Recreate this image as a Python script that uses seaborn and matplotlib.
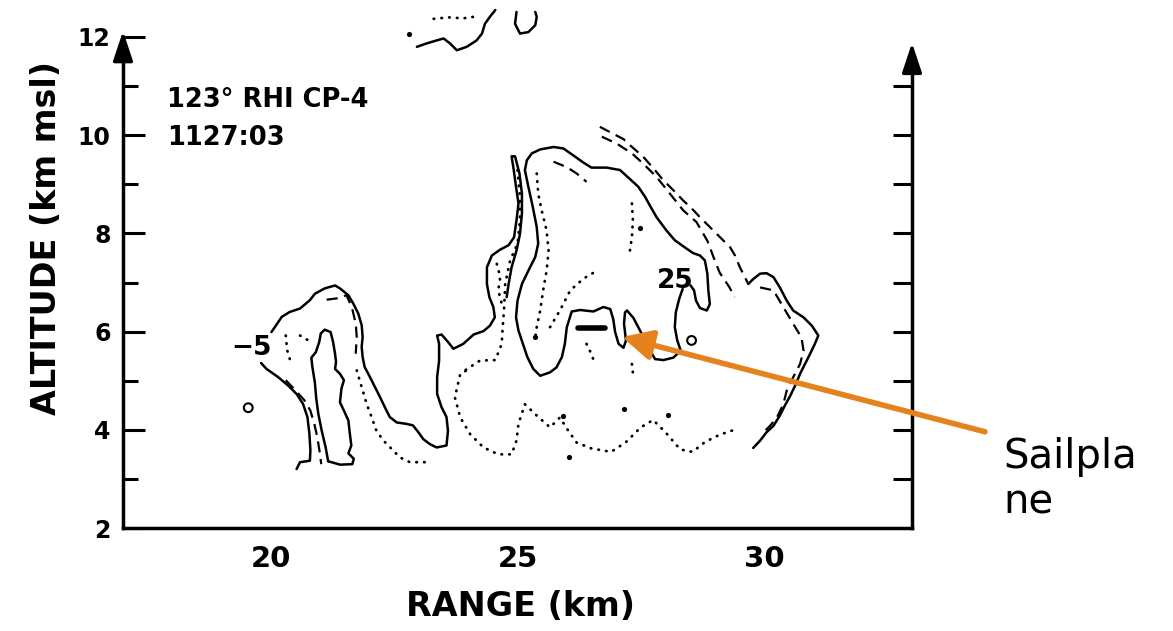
import matplotlib
matplotlib.use("Agg")
import matplotlib.pyplot as plt
import matplotlib.patheffects as pe
import seaborn as sns

# ---------------- data (range km, altitude km) ----------------
x_major = [20, 25, 30]
x_minor = [18, 19, 21, 22, 23, 24, 26, 27, 28, 29, 31, 32]
y_major = [2, 4, 6, 8, 10, 12]
y_minor = [3, 5, 7, 9, 11]
y_right = [3, 4, 5, 6, 7, 8, 9, 10, 11]

# -5 contour, left cell, left flank (ends at the "-5" label)
neg5_left_x = [20.52, 20.59, 20.79, 20.80, 20.78, 20.74, 20.65, 20.52, 20.35, 20.15, 19.91, 19.80]
neg5_left_y = [3.20, 3.34, 3.37, 3.58, 3.92, 4.26, 4.53, 4.73, 4.90, 5.07, 5.24, 5.36]

# -5 contour, from label over left cell, into centre cell and up the spike
neg5_main_x = [20.01, 20.22, 20.38, 20.59, 20.79, 20.89, 21.09, 21.30, 21.40, 21.57, 21.67, 21.77,
               21.84, 21.86, 21.84, 21.86, 21.90, 22.01, 22.11, 22.21, 22.31, 22.41, 22.55, 22.75,
               22.88, 22.99, 23.09, 23.22, 23.36, 23.56, 23.59, 23.56, 23.46, 23.37, 23.37, 23.41,
               23.41, 23.37, 23.46, 23.59, 23.70, 23.90, 24.11, 24.31, 24.44, 24.54, 24.51, 24.43,
               24.38, 24.38, 24.48, 24.65, 24.82, 24.93, 24.98, 25.02, 24.97, 24.92, 24.88, 24.95,
               25.04, 25.09, 25.09, 25.05, 24.98, 24.88, 24.82, 24.78]
neg5_main_y = [5.99, 6.30, 6.40, 6.47, 6.64, 6.77, 6.88, 6.94, 6.88, 6.74, 6.57, 6.37,
               6.13, 5.89, 5.69, 5.48, 5.28, 5.07, 4.87, 4.67, 4.46, 4.26, 4.15, 4.12,
               4.09, 3.95, 3.81, 3.71, 3.64, 3.68, 3.98, 4.26, 4.46, 4.73, 5.07, 5.41,
               5.75, 5.92, 5.94, 5.79, 5.65, 5.75, 5.94, 6.01, 6.12, 6.29, 6.50, 6.70,
               6.97, 7.31, 7.55, 7.67, 7.76, 7.92, 8.27, 8.61, 8.95, 9.32, 9.57, 9.57,
               9.22, 8.81, 8.40, 7.99, 7.65, 7.31, 6.97, 6.70]

# narrow inner column of the left cell (solid, closed)
column_x = [21.16, 21.11, 21.03, 20.96, 20.92, 20.89, 20.84, 20.82, 20.91, 20.98, 21.01, 21.09,
            21.21, 21.26, 21.30, 21.32, 21.30, 21.40, 21.48, 21.43, 21.40, 21.48, 21.57, 21.60,
            21.63, 21.57, 21.68, 21.65, 21.40, 21.16]
column_y = [3.36, 3.64, 3.98, 4.33, 4.63, 4.97, 5.28, 5.47, 5.58, 5.79, 5.96, 6.04,
            5.99, 5.79, 5.55, 5.38, 5.24, 5.14, 5.01, 4.84, 4.56, 4.39, 4.19, 3.92,
            3.68, 3.52, 3.41, 3.30, 3.29, 3.36]

# 25 contour of the big cell (solid, broken at the "25" label)
c25_x = [28.35, 28.28, 28.21, 28.19, 28.24, 28.31, 28.16, 27.96, 27.79, 27.69, 27.59, 27.47,
         27.35, 27.22, 27.18, 27.16, 27.20, 27.15, 27.05, 26.98, 26.94, 26.88, 26.74, 26.54,
         26.27, 26.10, 26.00, 25.96, 25.90, 25.79, 25.66, 25.46, 25.32, 25.20, 25.11, 25.02,
         24.97, 25.00, 25.09, 25.22, 25.36, 25.42, 25.39, 25.31, 25.22, 25.15, 25.19, 25.29,
         25.46, 25.73, 25.93, 26.13, 26.34, 26.50, 26.81, 27.08, 27.45, 27.59, 27.70, 27.82,
         28.02, 28.19, 28.40, 28.56, 28.70, 28.80, 28.85, 28.87, 28.90, 28.84, 28.70, 28.62,
         28.58, 28.51]
c25_y = [6.87, 6.67, 6.39, 6.09, 5.82, 5.61, 5.47, 5.42, 5.44, 5.61, 5.82, 6.05,
         6.28, 6.43, 6.39, 6.16, 5.82, 5.67, 5.75, 5.99, 6.26, 6.46, 6.50, 6.41,
         6.44, 6.41, 6.09, 5.75, 5.48, 5.27, 5.17, 5.10, 5.24, 5.48, 5.75, 6.02,
         6.29, 6.63, 6.97, 7.24, 7.52, 7.79, 8.13, 8.54, 8.95, 9.29, 9.49, 9.63,
         9.71, 9.76, 9.73, 9.59, 9.44, 9.34, 9.34, 9.29, 8.95, 8.74, 8.54, 8.33,
         8.06, 7.86, 7.71, 7.60, 7.55, 7.45, 7.18, 6.84, 6.56, 6.43, 6.48, 6.63,
         6.84, 6.94]

# outer envelope of the big cell: dashed upper part, solid right bulge
env_dash_x = [26.67, 26.94, 27.15, 27.30, 27.55, 27.76, 27.96, 28.16, 28.36, 28.57, 28.70, 28.87,
              29.04, 29.17, 29.31, 29.41, 29.51, 29.61, 29.68]
env_dash_y = [10.17, 10.03, 9.92, 9.78, 9.56, 9.32, 9.08, 8.88, 8.67, 8.47, 8.33, 8.16,
              7.99, 7.86, 7.72, 7.55, 7.31, 7.11, 6.97]
env_solid_x = [29.68, 29.78, 29.92, 30.05, 30.19, 30.32, 30.46, 30.59, 30.80, 30.97, 31.10, 31.03,
               30.93, 30.83, 30.73, 30.63, 30.53, 30.42, 30.32, 30.19, 30.05, 29.92, 29.78]
env_solid_y = [6.97, 7.07, 7.18, 7.19, 7.11, 6.90, 6.63, 6.43, 6.29, 6.12, 5.92, 5.75,
               5.54, 5.34, 5.14, 4.90, 4.69, 4.49, 4.29, 4.08, 3.95, 3.78, 3.63]

# inner dashed contours
dash_top_x = [26.71, 27.01, 27.32, 27.55, 27.82, 28.09, 28.36, 28.63, 28.85, 29.00, 29.10, 29.30, 29.40]
dash_top_y = [9.97, 9.83, 9.63, 9.42, 9.15, 8.81, 8.47, 8.23, 7.85, 7.45, 7.20, 6.90, 6.70]
dash_bulge_x = [29.92, 30.19, 30.39, 30.59, 30.76, 30.80, 30.73, 30.59, 30.46, 30.39, 30.26, 30.12, 29.99]
dash_bulge_y = [6.90, 6.84, 6.50, 6.16, 5.88, 5.61, 5.34, 5.07, 4.80, 4.52, 4.25, 4.08, 3.95]
dash_cap_x = [25.73, 26.00, 26.20, 26.40]
dash_cap_y = [9.46, 9.35, 9.22, 9.05]
dash_left_x = [20.30, 20.50, 20.68, 20.80, 20.88, 20.94, 20.99, 21.02]
dash_left_y = [5.01, 4.80, 4.60, 4.39, 4.12, 3.85, 3.54, 3.30]
dash_lefttop_x = [21.13, 21.36, 21.53, 21.64, 21.72, 21.74, 21.72]
dash_lefttop_y = [6.65, 6.68, 6.74, 6.50, 6.16, 5.89, 5.55]

# dotted contours
dot_bottom_x = [23.95, 23.84, 23.73, 23.84, 24.04, 24.31, 24.61, 24.88, 24.98, 25.02, 25.15, 25.39,
                25.66, 25.86, 26.03, 26.20, 26.50, 26.90, 27.20, 27.50, 27.75, 28.00, 28.30, 28.55,
                28.80, 29.10, 29.40]
dot_bottom_y = [5.20, 5.14, 4.66, 4.25, 3.91, 3.64, 3.50, 3.50, 3.78, 4.12, 4.52, 4.29,
                4.05, 4.25, 3.98, 3.74, 3.62, 3.55, 3.75, 4.05, 4.20, 3.95, 3.60, 3.55,
                3.75, 3.90, 4.00]
dot_inner_x = [25.39, 25.42, 25.49, 25.59, 25.63, 25.59, 25.52, 25.46, 25.39, 25.36]
dot_inner_y = [9.22, 8.81, 8.47, 8.06, 7.65, 7.24, 6.84, 6.43, 6.09, 5.88]
dot_diag_x = [25.66, 25.86, 26.07, 26.34, 26.61]
dot_diag_y = [6.09, 6.43, 6.84, 7.08, 7.24]
dot_spike_x = [25.00, 25.05, 25.05, 25.00, 24.85, 24.75, 24.73, 24.70, 24.68, 24.55, 24.24, 23.95]
dot_spike_y = [9.29, 8.74, 8.27, 7.79, 7.45, 6.97, 6.50, 6.09, 5.75, 5.42, 5.41, 5.22]
dot_mid_x = [24.58, 24.65, 24.61, 24.68]
dot_mid_y = [7.38, 7.11, 6.84, 6.57]
dot_upper_x = [27.32, 27.34, 27.32, 27.28]
dot_upper_y = [8.61, 8.27, 7.92, 7.65]
dot_below_x = [26.40, 26.50, 26.57]
dot_below_y = [5.75, 5.54, 5.34]
dot_below2_x = [27.32, 27.35]
dot_below2_y = [5.34, 5.07]
dot_right_x = [21.74, 21.84, 21.94, 22.04, 22.14, 22.28, 22.48, 22.61, 22.82, 23.15]
dot_right_y = [5.21, 4.87, 4.53, 4.26, 3.98, 3.78, 3.58, 3.44, 3.34, 3.34]
dot_lc1_x = [20.30, 20.33, 20.42]
dot_lc1_y = [5.92, 5.62, 5.31]
dot_lc2_x = [20.59, 20.76]
dot_lc2_y = [5.92, 5.82]

# fragments above the frame
top_a_x = [22.96, 23.16, 23.36, 23.50, 23.63, 23.77, 23.97, 24.17, 24.28, 24.34, 24.44, 24.55]
top_a_y = [11.80, 11.87, 11.93, 11.97, 11.87, 11.73, 11.80, 11.93, 12.07, 12.27, 12.41, 12.55]
top_b_x = [24.98, 24.95, 25.05, 25.22, 25.36, 25.39, 25.36]
top_b_y = [12.51, 12.27, 12.07, 12.10, 12.24, 12.41, 12.51]
top_c_x = [23.30, 23.60, 23.90, 24.17]
top_c_y = [12.37, 12.40, 12.38, 12.42]

# isolated echoes
speck_x = [27.48, 25.36, 25.93, 27.15, 22.79, 26.05, 28.05]
speck_y = [8.10, 5.88, 4.29, 4.42, 12.07, 3.45, 4.30]
loop_x = [19.54, 28.53]
loop_y = [4.45, 5.82]

# sailplane position
plane_x = [26.23, 26.77]
plane_y = [6.07, 6.07]

# labels
label_neg5 = (19.60, 5.67)
label_25 = (28.19, 7.03)
arrow_tip = (27.12, 5.89)
arrow_tail = (34.48, 3.96)
text_xy = (34.85, 3.86)

# ---------------- styling ----------------
sns.set_theme(style="white")
plt.rcParams["font.family"] = ["DejaVu Sans"]
plt.rcParams["font.weight"] = "bold"
plt.rcParams["text.color"] = "black"
plt.rcParams["axes.labelcolor"] = "black"

fig = plt.figure(figsize=(11.73, 6.31), dpi=100, facecolor="white")
ax = fig.add_axes([123 / 1173, 103 / 631, 789 / 1173, 491 / 631])
ax.set_facecolor("white")

styles = {
    "solid": dict(linewidth=1.8, linestyle="-"),
    "dash": dict(linewidth=1.6, linestyle=(0, (5, 3))),
    "dot": dict(linewidth=2.0, linestyle=(0, (0.2, 2.6)), dash_capstyle="round"),
}

segments = [
    (neg5_left_x, neg5_left_y, "solid"),
    (neg5_main_x, neg5_main_y, "solid"),
    (column_x, column_y, "solid"),
    (c25_x, c25_y, "solid"),
    (env_dash_x, env_dash_y, "dash"),
    (env_solid_x, env_solid_y, "solid"),
    (dash_top_x, dash_top_y, "dash"),
    (dash_bulge_x, dash_bulge_y, "dash"),
    (dash_cap_x, dash_cap_y, "dash"),
    (dash_left_x, dash_left_y, "dash"),
    (dash_lefttop_x, dash_lefttop_y, "dash"),
    (dot_bottom_x, dot_bottom_y, "dot"),
    (dot_inner_x, dot_inner_y, "dot"),
    (dot_diag_x, dot_diag_y, "dot"),
    (dot_spike_x, dot_spike_y, "dot"),
    (dot_mid_x, dot_mid_y, "dot"),
    (dot_upper_x, dot_upper_y, "dot"),
    (dot_below_x, dot_below_y, "dot"),
    (dot_below2_x, dot_below2_y, "dot"),
    (dot_right_x, dot_right_y, "dot"),
    (dot_lc1_x, dot_lc1_y, "dot"),
    (dot_lc2_x, dot_lc2_y, "dot"),
    (top_a_x, top_a_y, "solid"),
    (top_b_x, top_b_y, "solid"),
    (top_c_x, top_c_y, "dot"),
]
for xs, ys, kind in segments:
    sns.lineplot(x=xs, y=ys, sort=False, estimator=None, color="black",
                 ax=ax, clip_on=False, **styles[kind])

sns.scatterplot(x=speck_x, y=speck_y, color="black", s=14, linewidth=0, ax=ax, clip_on=False)
sns.scatterplot(x=loop_x, y=loop_y, facecolor="none", edgecolor="black", s=40,
                linewidth=1.5, ax=ax)
sns.lineplot(x=plane_x, y=plane_y, color="black", linewidth=4, ax=ax, estimator=None, sort=False)

# contour labels and header
ax.text(*label_neg5, "\u22125", fontsize=19, ha="center", va="center", fontweight="bold", color="black")
ax.text(*label_25, "25", fontsize=19, ha="center", va="center", fontweight="bold", color="black")
ax.text(17.89, 10.72, "123\u00b0 RHI CP-4", fontsize=18.5, ha="left", va="center",
        fontweight="bold", color="black")
ax.text(17.89, 9.94, "1127:03", fontsize=18.5, ha="left", va="center", fontweight="bold", color="black")

# axes
ax.set_xlim(17, 33)
ax.set_ylim(2, 12)
ax.set_xticks(x_major)
ax.set_xticks(x_minor, minor=True)
ax.set_yticks(y_major)
ax.set_yticks(y_minor, minor=True)
ax.set_xticklabels([str(v) for v in x_major])
ax.set_yticklabels([str(v) for v in y_major])
ax.tick_params(axis="x", which="major", direction="in", length=14, width=2.2,
               labelsize=21, pad=12, top=False, color="black", labelcolor="black")
ax.tick_params(axis="x", which="minor", direction="in", length=9.5, width=2.2, top=False, color="black")
ax.tick_params(axis="y", which="major", direction="in", length=16, width=2.2,
               labelsize=17, pad=9, right=False, color="black", labelcolor="black")
ax.tick_params(axis="y", which="minor", direction="in", length=11, width=2.2, right=False, color="black")
ax.yaxis.get_major_ticks()[-1].tick1line.set_visible(False)

for side in ["left", "bottom", "right"]:
    ax.spines[side].set_visible(True)
    ax.spines[side].set_linewidth(2.5)
    ax.spines[side].set_color("black")
ax.spines["top"].set_visible(False)
ax.spines["right"].set_bounds(2, 11.7)

ax2 = ax.twinx()
ax2.set_ylim(2, 12)
ax2.set_yticks(y_right)
ax2.tick_params(axis="y", direction="in", length=14, width=2.2, labelright=False, right=True, color="black")
for s in ax2.spines.values():
    s.set_visible(False)
ax2.grid(False)

# arrow heads on the vertical axes
head = dict(arrowstyle="-|>,head_length=0.9,head_width=0.3", color="black", lw=2.5,
            mutation_scale=20, shrinkA=0, shrinkB=0)
ax.annotate("", xy=(17, 12.12), xytext=(17, 11.6), arrowprops=head, annotation_clip=False)
ax.annotate("", xy=(33, 11.88), xytext=(33, 11.5), arrowprops=head, annotation_clip=False)

ax.set_xlabel("RANGE (km)", fontsize=24, fontweight="bold", color="black")
ax.set_ylabel("ALTITUDE (km msl)", fontsize=24, fontweight="bold", color="black")
ax.xaxis.set_label_coords(0.504, -0.126)
ax.yaxis.set_label_coords(-0.076, 0.591)

# sailplane annotation
orange = "#E6821E"
ax.annotate("", xy=arrow_tip, xytext=arrow_tail, annotation_clip=False,
            arrowprops=dict(arrowstyle="-|>,head_length=0.9,head_width=0.45", color=orange,
                            lw=4, mutation_scale=20, shrinkA=0, shrinkB=0,
                            path_effects=[pe.SimplePatchShadow(offset=(1.2, -1.8),
                                                               shadow_rgbFace="#5f5f5f", alpha=0.9),
                                          pe.Normal()]))
ax.text(*text_xy, "Sailpla\nne", fontsize=29, fontweight="normal", ha="left", va="top",
        color="black", linespacing=1.2, clip_on=False)

ax.grid(False)
fig.savefig("out.png", dpi=100, facecolor="white")
